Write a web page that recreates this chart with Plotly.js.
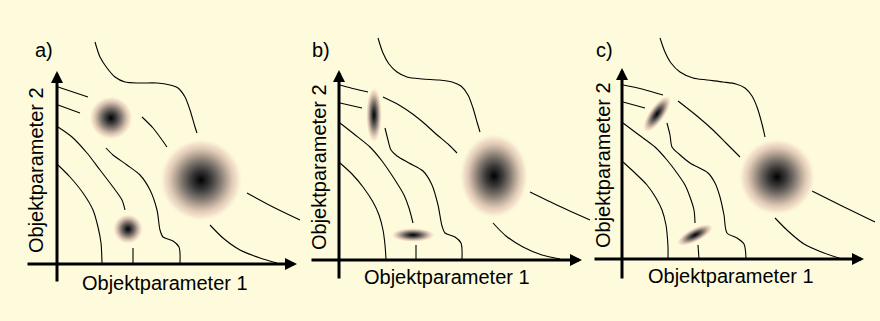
<!DOCTYPE html>
<html><head><meta charset="utf-8">
<script src="https://cdn.plot.ly/plotly-3.0.1.min.js"></script>
<style>html,body{margin:0;padding:0;background:#fdfbdc}</style>
</head><body><div id="chart" style="width:880px;height:321px"></div>
<script>
// ---------- data ----------
const panelLabels = ['a)', 'b)', 'c)'];
const xTitle = 'Objektparameter 1';
const yTitle = 'Objektparameter 2';

// contour curves, [x, y] in axis units, null = hidden by a blob
const curvesA = [
  [[38,222],[43,207],[50,196],[58,187],[68,182],[83,181],[100,181],[113,179],[121,176],[128,167],[133,154],[138,137],[140,131],null,[190,71],[216,57],[243,44]],
  [[1,177],[16,172],[31,167],null,[85,147],[96,136],[110,117],null,[153,39],[166,26],[183,14],[203,6],[220,1]],
  [[1,159],[23,151],null,[49,116],[56,109],[70,99],[83,89],[93,74],[100,54],[103,34],[106,27],[116,23],[122,17],[123,1]],
  [[1,137],[15,127],[30,111],[43,94],[56,77],[65,64],[68,54],null,[76,16],[76,1]],
  [[1,99],[13,87],[26,71],[36,54],[41,37],[44,21],[45,1]]
];
const curvesB = [
  [[39,222],[44,207],[50,196],[58,188],[68,183],[83,181],[100,180],[113,178],[122,174],[129,165],[134,152],[138,138],[141,128],null,[191,68],[220,54],[251,40]],
  [[1,175],[16,171],[29,168],null,[44,163],[60,155],[75,145],[86,136],[97,126],[110,115],[118,107],null,[154,37],[167,24],[184,13],[203,5],[221,1]],
  [[1,157],[23,152],null,[46,132],[49,120],[52,110],[58,104],[70,97],[84,89],[93,75],[99,55],[103,34],[106,27],[116,23],[122,17],[123,1]],
  [[1,137],[15,126],[31,113],[43,99],[56,80],[65,65],[70,52],[74,37],null,[77,15],[77,1]],
  [[1,97],[13,86],[24,73],[34,58],[40,45],[44,30],[46,15],[47,1]]
];
const curvesC = [
  [[38,221],[43,207],[49,196],[58,187],[71,181],[85,179],[101,177],[114,175],[123,171],[130,163],[135,152],[140,135],[143,122],null,[190,68],[220,53],[253,37]],
  [[1,174],[20,170],[41,164],null,[56,158],[75,143],[91,129],[104,116],[118,102],null,[153,41],[166,28],[182,15],[202,6],[220,0]],
  [[1,157],[23,151],null,[45,136],[48,124],[50,112],[57,105],[68,96],[86,86],[93,76],[98,62],[102,44],[105,26],[115,21],[122,15],[124,0]],
  [[1,136],[17,124],[33,112],[45,99],[55,86],[63,74],[68,62],[72,49],[73,36],null,[76,14],[77,0]],
  [[1,97],[13,86],[25,74],[34,61],[40,49],[44,34],[45,26],[46,12],[46,0]]
];

// blobs: [centerX, centerY, semi-axis 1, semi-axis 2, angle of axis 1 (deg)]
const blobsA = [[54,146,22,22,0],[144,84,42,42,0],[71,35,15,15,0]];
const blobsB = [[35,145,8,28,0],[155,84,35,43,0],[74,25,22,7,0]];
const blobsC = [[35,145,22,8,55],[155,82,39,39,0],[73,24,20,7,27]];

// axis arrows: [x-axis start, x-axis tip, y-axis start, y-axis tip]
const arrowsA = [-31,243,-19,196];
const arrowsB = [-29,246,-20,193];
const arrowsC = [-29,245,-21,194];

// text positions: [label x, label y, xTitle x, xTitle y, yTitle x, yTitle y]
const textPosA = [-13,214,108,-19,-21,94];
const textPosB = [-18,210,108,-17,-20,93];
const textPosC = [-18,209,109,-17,-19,94];

// ---------- layout ----------
const W = 880, H = 321, BG = '#fdfbdc';
const origins = [[57,264],[339,260],[622,259]];
const XR = [-40, 258], YR = [-32, 232];
const panels = [
  {curves: curvesA, blobs: blobsA, arrows: arrowsA, text: textPosA},
  {curves: curvesB, blobs: blobsB, arrows: arrowsB, text: textPosB},
  {curves: curvesC, blobs: blobsC, arrows: arrowsC, text: textPosC}
];
const FONT = {family: 'Liberation Sans, Arial, sans-serif', size: 20, color: '#000'};

function blobSource(a, b, ang) {
  const S = Math.max(a, b) + 1;
  const stops = [[0,'#000000'],[0.12,'#1e1e1e'],[0.25,'#3f3d3c'],[0.38,'#66615d'],[0.5,'#8e8379'],[0.62,'#b8a797'],[0.75,'#e0cbb7'],[0.87,'#f5e3cc']];
  let st = stops.map(s => `<stop offset="${s[0]}" stop-color="${s[1]}"/>`).join('');
  st += `<stop offset="1" stop-color="${BG}" stop-opacity="0"/>`;
  const svg = `<svg xmlns="http://www.w3.org/2000/svg" width="200" height="200" viewBox="${-S} ${-S} ${2*S} ${2*S}"><defs><radialGradient id="g">${st}</radialGradient></defs><ellipse cx="0" cy="0" rx="${a}" ry="${b}" transform="rotate(${-ang})" fill="url(#g)"/></svg>`;
  return {src: 'data:image/svg+xml;charset=utf-8,' + encodeURIComponent(svg), S: S};
}

const traces = [];
const layout = {
  width: W, height: H, margin: {l:0, r:0, t:0, b:0},
  paper_bgcolor: BG, plot_bgcolor: 'rgba(0,0,0,0)', showlegend: false,
  annotations: [], images: []
};

panels.forEach((p, i) => {
  const sfx = i === 0 ? '' : String(i + 1);
  const xa = 'x' + sfx, ya = 'y' + sfx;
  const [ox, oy] = origins[i];
  layout['xaxis' + sfx] = {domain: [(ox + XR[0]) / W, Math.min(1, (ox + XR[1]) / W)], range: XR, visible: false, fixedrange: true, anchor: ya};
  layout['yaxis' + sfx] = {domain: [1 - (oy - YR[0]) / H, 1 - (oy - YR[1]) / H], range: YR, visible: false, fixedrange: true, anchor: xa};

  p.curves.forEach(c => {
    traces.push({
      type: 'scatter', mode: 'lines', xaxis: xa, yaxis: ya,
      x: c.map(q => q ? q[0] : null), y: c.map(q => q ? q[1] : null),
      line: {color: '#000', width: 1.1, shape: 'spline', smoothing: 0.8},
      connectgaps: false, hoverinfo: 'skip'
    });
  });

  p.blobs.forEach(bl => {
    const s = blobSource(bl[2], bl[3], bl[4]);
    layout.images.push({
      source: s.src, xref: xa, yref: ya, x: bl[0], y: bl[1],
      xanchor: 'center', yanchor: 'middle', sizex: 2 * s.S, sizey: 2 * s.S,
      sizing: 'stretch', layer: 'above'
    });
  });

  const ar = p.arrows;
  const headOff = 3;
  const arrowBase = {xref: xa, yref: ya, axref: xa, ayref: ya, text: '', showarrow: true,
    arrowhead: 2, arrowwidth: 3, arrowsize: 0.8, arrowcolor: '#000', standoff: 0};
  layout.annotations.push(Object.assign({}, arrowBase, {x: ar[1] - headOff, y: 0, ax: ar[0], ay: 0}));
  layout.annotations.push(Object.assign({}, arrowBase, {x: 0, y: ar[3] - headOff, ax: 0, ay: ar[2]}));

  const t = p.text;
  layout.annotations.push({xref: xa, yref: ya, x: t[0], y: t[1], text: panelLabels[i], showarrow: false, font: FONT});
  layout.annotations.push({xref: xa, yref: ya, x: t[2], y: t[3], text: xTitle, showarrow: false, font: FONT});
  layout.annotations.push({xref: xa, yref: ya, x: t[4], y: t[5], text: yTitle, showarrow: false, font: FONT, textangle: -90});
});

Plotly.newPlot('chart', traces, layout, {staticPlot: true, displayModeBar: false});
</script>
</body></html>
